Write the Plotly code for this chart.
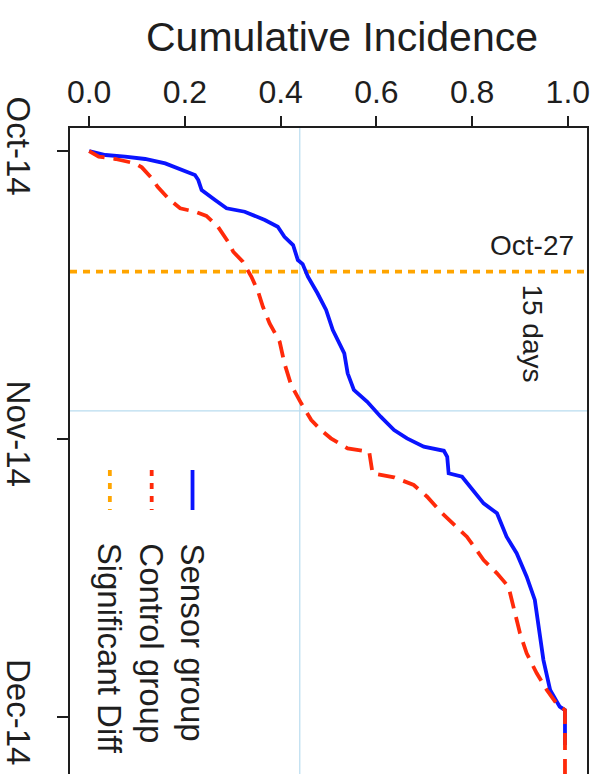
import pandas as pd
import plotly.graph_objects as go

# Study start and observation data (days after start, cumulative incidence)
start = pd.Timestamp("2014-10-14")

sensor_days = [0.0, 0.43, 0.61, 0.86, 1.33, 1.97, 2.59, 3.13, 4.20, 5.28, 6.17, 6.54,
               7.44, 8.16, 9.24, 10.13, 11.75, 12.18, 13.55, 15.33, 17.13, 19.29,
               21.80, 23.96, 25.75, 27.02, 28.63, 30.06, 30.96, 31.86, 32.30, 32.95,
               34.73, 35.10, 37.61, 37.97, 39.04, 41.56, 43.34, 45.87, 48.38, 50.89,
               54.85, 58.08, 59.88, 60.24, 64.0]
sensor_inc = [0.000, 0.034, 0.075, 0.117, 0.159, 0.193, 0.221, 0.228, 0.235, 0.263,
              0.287, 0.325, 0.367, 0.394, 0.408, 0.426, 0.436, 0.446, 0.457, 0.477,
              0.495, 0.509, 0.533, 0.540, 0.553, 0.581, 0.609, 0.637, 0.664, 0.699,
              0.741, 0.748, 0.751, 0.779, 0.817, 0.824, 0.852, 0.872, 0.893, 0.914,
              0.931, 0.938, 0.949, 0.963, 0.983, 0.994, 0.994]

control_days = [0.0, 0.61, 0.86, 1.33, 1.76, 2.94, 3.85, 5.10, 6.17, 6.54, 7.00, 8.16,
                9.77, 10.85, 11.93, 12.82, 13.55, 15.16, 16.78, 18.57, 20.55, 22.88,
                25.22, 27.19, 28.99, 30.06, 30.96, 32.04, 32.40, 34.73, 35.16, 35.99,
                37.25, 38.87, 40.30, 41.56, 44.07, 45.51, 46.95, 49.11, 51.97, 54.13,
                56.28, 58.08, 59.52, 60.24, 70.0]
control_inc = [0.000, 0.020, 0.055, 0.096, 0.110, 0.131, 0.143, 0.165, 0.190, 0.221,
               0.245, 0.269, 0.290, 0.301, 0.321, 0.332, 0.339, 0.353, 0.363, 0.377,
               0.398, 0.408, 0.422, 0.443, 0.464, 0.484, 0.505, 0.540, 0.585, 0.592,
               0.637, 0.678, 0.706, 0.734, 0.762, 0.789, 0.824, 0.852, 0.876, 0.886,
               0.900, 0.914, 0.935, 0.956, 0.976, 0.994, 0.994]

sig_date = "2014-10-27"
gap_days = 15
ref_level = 0.44

tick_dates = ["2014-10-14", "2014-11-14", "2014-12-14"]
tick_text = ["Oct-14", "Nov-14", "Dec-14"]
inc_ticks = [0.0, 0.2, 0.4, 0.6, 0.8, 1.0]

legend_labels = ["Sensor group", "Control group", "Significant Diff"]

BLUE = "#0a14ff"
RED = "#ff2a0a"
ORANGE = "#ffa500"
LIGHT = "#b9dcef"
INK = "#1e1e1e"
FONT = "Liberation Sans, Arial, sans-serif"

W, H = 600, 774
ML, MR, MT, MB = 68, 13, 128, 0
PW, PH = W - ML - MR, H - MT - MB


def px(x):
    return (x - ML) / PW


def py(y):
    return 1 - (y - MT) / PH


def to_dates(days):
    return start + pd.to_timedelta(days, unit="D")


fig = go.Figure()
fig.add_trace(go.Scatter(x=sensor_inc, y=to_dates(sensor_days), mode="lines",
                         line=dict(color=BLUE, width=3.8), name=legend_labels[0],
                         showlegend=False))
fig.add_trace(go.Scatter(x=control_inc, y=to_dates(control_days), mode="lines",
                         line=dict(color=RED, width=3.8, dash="17px,9px"),
                         name=legend_labels[1], showlegend=False))

sig_ts = pd.Timestamp(sig_date)
ref_ts = sig_ts + pd.Timedelta(days=gap_days)

shapes = [
    dict(type="line", xref="x", yref="paper", x0=ref_level, x1=ref_level, y0=0, y1=1,
         line=dict(color=LIGHT, width=1.2), layer="below"),
    dict(type="line", xref="paper", yref="y", x0=0, x1=1, y0=ref_ts, y1=ref_ts,
         line=dict(color=LIGHT, width=1.2), layer="below"),
    dict(type="line", xref="paper", yref="y", x0=0, x1=1, y0=sig_ts, y1=sig_ts,
         line=dict(color=ORANGE, width=3.6, dash="7px,6px"), layer="below"),
]

# Legend keys drawn as short vertical segments
legend_x = [191, 150, 108]
legend_style = [dict(color=BLUE, width=3.8),
                dict(color=RED, width=3.8, dash="6px,7px"),
                dict(color=ORANGE, width=3.8, dash="6px,7px")]
for lx, st in zip(legend_x, legend_style):
    shapes.append(dict(type="line", xref="paper", yref="paper", x0=px(lx), x1=px(lx),
                       y0=py(470), y1=py(510), line=st))

annotations = [
    dict(text="Cumulative Incidence", xref="paper", yref="paper", x=px(341), y=py(37),
         xanchor="center", yanchor="middle", showarrow=False,
         font=dict(family=FONT, size=41, color=INK)),
    dict(text="Oct-27", xref="paper", yref="y", x=px(576), y=sig_ts,
         xanchor="right", yanchor="bottom", yshift=9, showarrow=False,
         font=dict(family=FONT, size=28, color=INK)),
    dict(text=f"{gap_days} days", xref="paper", yref="y", x=px(532), y=sig_ts,
         xanchor="center", yanchor="top", yshift=-11, textangle=90, showarrow=False,
         font=dict(family=FONT, size=28, color=INK)),
]
for lx, lab in zip(legend_x, legend_labels):
    annotations.append(dict(text=lab, xref="paper", yref="paper", x=px(lx), y=py(541),
                            xanchor="center", yanchor="top", textangle=90,
                            showarrow=False,
                            font=dict(family=FONT, size=33, color=INK)))

y_top = start - pd.Timedelta(days=2.48)
y_bot = start + pd.Timedelta(days=67.13)

fig.update_layout(
    width=W, height=H,
    margin=dict(l=ML, r=MR, t=MT, b=MB, pad=0),
    paper_bgcolor="white", plot_bgcolor="white",
    shapes=shapes, annotations=annotations,
    font=dict(family=FONT, color=INK),
    xaxis=dict(side="top", range=[-0.04, 1.04], tickvals=inc_ticks,
               ticktext=[f"{v:.1f}" for v in inc_ticks],
               ticks="outside", ticklen=10, tickwidth=2, tickcolor=INK,
               showline=True, linewidth=2, linecolor=INK, mirror=False,
               showgrid=False, zeroline=False,
               tickfont=dict(family=FONT, size=32, color=INK)),
    yaxis=dict(type="date", range=[y_bot, y_top], tickvals=pd.to_datetime(tick_dates),
               ticktext=tick_text, tickangle=90, ticklabelstandoff=10,
               ticks="outside", ticklen=11, tickwidth=2, tickcolor=INK,
               showline=True, linewidth=2, linecolor=INK, mirror=True,
               showgrid=False, zeroline=False,
               tickfont=dict(family=FONT, size=33, color=INK)),
)

fig.write_html("out.html")
